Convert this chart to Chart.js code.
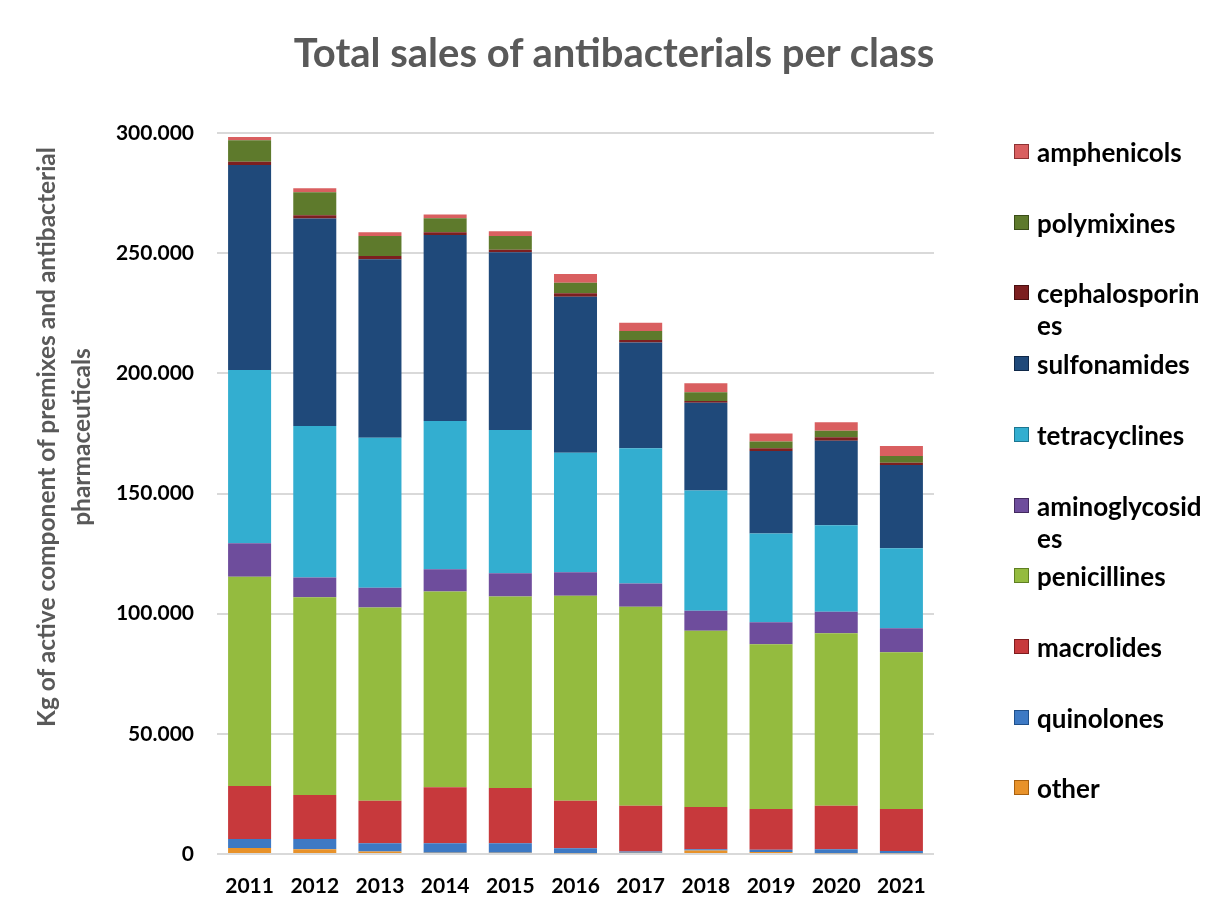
<!DOCTYPE html>
<html>
<head>
<meta charset="utf-8">
<title>Total sales of antibacterials per class</title>
<script src="https://cdn.jsdelivr.net/npm/chart.js@4.4.1/dist/chart.umd.min.js"></script>
<style>
    body { margin: 0; background: #fff; font-family: Lato, sans-serif; }
    #wrap { position: relative; width: 1215px; height: 911px; }
    #chart-title {
        position: absolute; left: 13px; right: 0; top: 28px;
        text-align: center; font-weight: bold; font-size: 40px; line-height: 48px; color: #595959;
    }
    #y-title {
        position: absolute; width: 700px; left: -287px; top: 402px;
        transform: rotate(-90deg); text-align: center;
        font-weight: bold; font-size: 24.5px; line-height: 35px; color: #595959;
    }
    #legend { position: absolute; left: 1014px; top: 0; }
    .legend-item { position: absolute; left: 0; display: flex; align-items: flex-start; white-space: nowrap; }
    .legend-box { width: 15px; height: 15px; margin-top: 8px; margin-right: 8px; box-sizing: border-box; }
    .legend-text { font-weight: bold; font-size: 26px; line-height: 32px; color: #000; }
</style>
</head>
<body>
<div id="wrap">
    <canvas id="salesChart"></canvas>
    <div id="chart-title">Total sales of antibacterials per class</div>
    <div id="y-title">Kg of active component of premixes and antibacterial<br>pharmaceuticals</div>
    <div id="legend"></div>
</div>
<script>
// kg of active component per year
const years = ['2011', '2012', '2013', '2014', '2015', '2016', '2017', '2018', '2019', '2020', '2021'];
const other           = [2500, 2000, 1000, 500, 500, 300, 500, 1500, 800, 300, 300];
const quinolones      = [3700, 4200, 3500, 4000, 4000, 2100, 500, 500, 1000, 1700, 1000];
const macrolides      = [22100, 18300, 17700, 23300, 23000, 19800, 19100, 17600, 16900, 18100, 17400];
const penicillines    = [87100, 82300, 80400, 81400, 79600, 85300, 82800, 73300, 68600, 71700, 65200];
const aminoglycosides = [13900, 8300, 8200, 9300, 9700, 9700, 9700, 8300, 9100, 9000, 10000];
const tetracyclines   = [72100, 63000, 62400, 61700, 59600, 49800, 56200, 50000, 37000, 36000, 33300];
const sulfonamides    = [85300, 86300, 74300, 77400, 74000, 64900, 44000, 36600, 34300, 35200, 34700];
const cephalosporines = [1300, 1400, 1300, 1100, 1000, 1400, 1100, 700, 1100, 1400, 900];
const polymixines     = [9000, 9500, 8300, 5800, 5700, 4400, 3700, 3600, 2800, 2700, 2800];
const amphenicols     = [1300, 1700, 1600, 1600, 2000, 3600, 3400, 3800, 3400, 3500, 4200];

const yTicks = [0, 50000, 100000, 150000, 200000, 250000, 300000];

const series = [
    { label: 'other',           data: other,           color: '#e8922a', edge: '#a8600f' },
    { label: 'quinolones',      data: quinolones,      color: '#3d79c4', edge: '#1f4f8a' },
    { label: 'macrolides',      data: macrolides,      color: '#c7393c', edge: '#7e1c1e' },
    { label: 'penicillines',    data: penicillines,    color: '#94bb3f', edge: '#5f7f22' },
    { label: 'aminoglycosides', data: aminoglycosides, color: '#6e4d9c', edge: '#43295f' },
    { label: 'tetracyclines',   data: tetracyclines,   color: '#33aed0', edge: '#1c7691' },
    { label: 'sulfonamides',    data: sulfonamides,    color: '#1f497a', edge: '#0f2848' },
    { label: 'cephalosporines', data: cephalosporines, color: '#7c1f20', edge: '#4a0f10' },
    { label: 'polymixines',     data: polymixines,     color: '#5e7a2c', edge: '#3a4d18' },
    { label: 'amphenicols',     data: amphenicols,     color: '#d95f60', edge: '#8e3233' }
];

function formatKg(value) {
    return String(value).replace(/\B(?=(\d{3})+(?!\d))/g, '.');
}

document.addEventListener('DOMContentLoaded', function () {
    const chart = renderChart();
    buildLegend(chart);
});

function renderChart() {
    const ctx = document.getElementById('salesChart').getContext('2d');
    const tickFont = { family: 'Lato', weight: 'bold', size: 21 };

    return new Chart(ctx, {
        type: 'bar',
        data: {
            labels: years,
            datasets: series.map(s => ({
                label: s.label,
                data: s.data,
                backgroundColor: s.color,
                borderColor: s.edge,
                borderWidth: 0,
                barPercentage: 0.66,
                categoryPercentage: 1
            }))
        },
        options: {
            responsive: true,
            maintainAspectRatio: false,
            animation: false,
            layout: { padding: { top: 133, right: 281, bottom: 0, left: 0 } },
            plugins: {
                legend: { display: false },
                title: { display: false },
                tooltip: { enabled: false }
            },
            scales: {
                x: {
                    stacked: true,
                    grid: { display: false },
                    border: { display: false },
                    ticks: { color: '#000', font: tickFont, padding: 12 },
                    afterFit: function (scale) { scale.height = 57; }
                },
                y: {
                    stacked: true,
                    min: 0,
                    max: 300000,
                    afterBuildTicks: function (scale) {
                        scale.ticks = yTicks.map(v => ({ value: v }));
                    },
                    grid: { color: '#d9d9d9', lineWidth: 2, drawTicks: false },
                    border: { display: false },
                    ticks: {
                        color: '#000',
                        font: tickFont,
                        padding: 23,
                        callback: function (value) { return formatKg(value); }
                    },
                    afterFit: function (scale) { scale.width = 217; }
                }
            }
        }
    });
}

function buildLegend(chart) {
    const legend = document.getElementById('legend');
    const firstCenter = 152;
    const step = 70.7;
    // top of the legend is the last series, as in the original
    const items = chart.data.datasets.slice().reverse();
    items.forEach((ds, i) => {
        const item = document.createElement('div');
        item.className = 'legend-item';
        item.style.top = (firstCenter + i * step - 16) + 'px';

        const box = document.createElement('span');
        box.className = 'legend-box';
        box.style.background = ds.backgroundColor;
        box.style.border = '1px solid ' + ds.borderColor;

        const text = document.createElement('span');
        text.className = 'legend-text';
        // long names wrap after 13 characters
        const lines = ds.label.match(/.{1,13}/g);
        lines.forEach((line, k) => {
            if (k > 0) text.appendChild(document.createElement('br'));
            text.appendChild(document.createTextNode(line));
        });

        item.appendChild(box);
        item.appendChild(text);
        legend.appendChild(item);
    });
}
</script>
</body>
</html>
